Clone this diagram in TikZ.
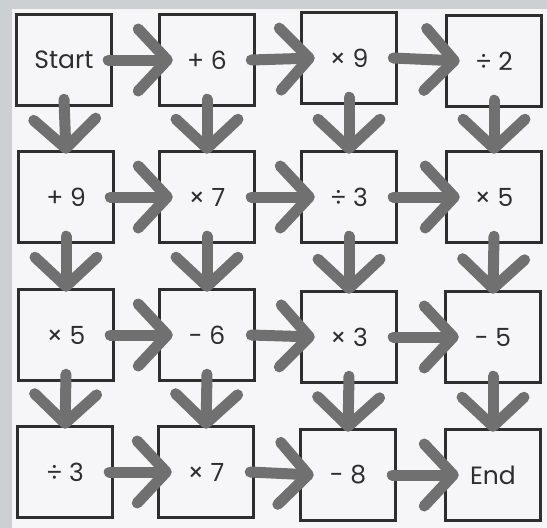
\documentclass[tikz,border=0pt]{standalone}
\usepackage{fontspec}
\setmainfont{Poppins}
\usetikzlibrary{arrows.meta}
\definecolor{pagegrey}{HTML}{CDD0D3}
\definecolor{paper}{HTML}{F6F5F8}
\definecolor{inkgrey}{HTML}{2E2E2E}
\definecolor{arrowgrey}{HTML}{707070}

\begin{document}
\begin{tikzpicture}[
  x=1pt,y=-1pt,
  cell/.style={draw=inkgrey,line width=3.5pt,fill=paper,text=inkgrey,
    minimum width=95pt,minimum height=91pt,inner sep=0pt,
    font=\fontsize{25}{28}\selectfont},
  flow/.style={draw=arrowgrey,line width=11pt,line cap=round,
    -{Straight Barb[length=29pt,width=62pt,round]}}
]
  \useasboundingbox (0,0) rectangle (547,528);
  \fill[pagegrey] (0,0) rectangle (547,528);
  \fill[paper] (12,9) rectangle (547,528);

  \node[cell] (start)  at (64,60)   {Start};
  \node[cell] (plus6)  at (207,60)  {+ 6};
  \node[cell] (times9) at (349,58)  {× 9};
  \node[cell] (div2)   at (494,61)  {÷ 2};
  \node[cell] (plus9)  at (66,197)  {+ 9};
  \node[cell] (times7) at (207,197) {× 7};
  \node[cell] (div3)   at (349,197) {÷ 3};
  \node[cell] (times5) at (494,197) {× 5};
  \node[cell] (timesfive) at (66,335)  {× 5};
  \node[cell] (minus6) at (207,335) {- 6};
  \node[cell] (times3) at (349,337) {× 3};
  \node[cell] (minus5) at (493,337) {- 5};
  \node[cell] (divthree)   at (65,472)  {÷ 3};
  \node[cell] (timesseven) at (206,472) {× 7};
  \node[cell] (minus8) at (348,475) {- 8};
  \node[cell] (finish) at (493,475) {End};

  % across
  \draw[flow] ([xshift=-5pt]start.east) -- ([xshift=15pt]plus6.west);
  \draw[flow] ([xshift=-5pt]plus6.east) -- ([xshift=15pt]times9.west);
  \draw[flow] ([xshift=-5pt]times9.east) -- ([xshift=15pt]div2.west);
  \draw[flow] ([xshift=-5pt]plus9.east) -- ([xshift=15pt]times7.west);
  \draw[flow] ([xshift=-5pt]times7.east) -- ([xshift=15pt]div3.west);
  \draw[flow] ([xshift=-5pt]div3.east) -- ([xshift=15pt]times5.west);
  \draw[flow] ([xshift=-5pt]timesfive.east) -- ([xshift=15pt]minus6.west);
  \draw[flow] ([xshift=-5pt]minus6.east) -- ([xshift=15pt]times3.west);
  \draw[flow] ([xshift=-5pt]times3.east) -- ([xshift=15pt]minus5.west);
  \draw[flow] ([xshift=-5pt]divthree.east) -- ([xshift=15pt]timesseven.west);
  \draw[flow] ([xshift=-5pt]timesseven.east) -- ([xshift=15pt]minus8.west);
  \draw[flow] ([xshift=-5pt]minus8.east) -- ([xshift=15pt]finish.west);

  % down
  \draw[flow] ([yshift=8pt]start.south) -- ([yshift=-4pt]plus9.north);
  \draw[flow] ([yshift=8pt]plus9.south) -- ([yshift=-4pt]timesfive.north);
  \draw[flow] ([yshift=8pt]timesfive.south) -- ([yshift=-4pt]divthree.north);
  \draw[flow] ([yshift=8pt]plus6.south) -- ([yshift=-4pt]times7.north);
  \draw[flow] ([yshift=8pt]times7.south) -- ([yshift=-4pt]minus6.north);
  \draw[flow] ([yshift=8pt]minus6.south) -- ([yshift=-4pt]timesseven.north);
  \draw[flow] ([yshift=8pt]times9.south) -- ([yshift=-4pt]div3.north);
  \draw[flow] ([yshift=8pt]div3.south) -- ([yshift=-4pt]times3.north);
  \draw[flow] ([yshift=8pt]times3.south) -- ([yshift=-4pt]minus8.north);
  \draw[flow] ([yshift=8pt]div2.south) -- ([yshift=-4pt]times5.north);
  \draw[flow] ([yshift=8pt]times5.south) -- ([yshift=-4pt]minus5.north);
  \draw[flow] ([yshift=8pt]minus5.south) -- ([yshift=-4pt]finish.north);
\end{tikzpicture}
\end{document}
